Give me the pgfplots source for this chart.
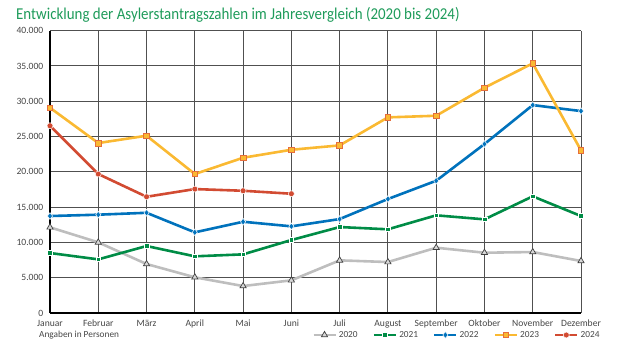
\documentclass[border=0pt]{standalone}
\usepackage{pgfplots}
\pgfplotsset{compat=1.18}
\usepackage{fontspec}
\setmainfont{Carlito}
\newfontfamily\titlefont[FakeStretch=0.9]{Carlito}
\definecolor{c20}{RGB}{190,190,190}
\definecolor{c21}{RGB}{0,140,70}
\definecolor{c22}{RGB}{0,114,188}
\definecolor{c23}{RGB}{250,185,50}
\definecolor{c23e}{RGB}{230,110,60}
\definecolor{c24}{RGB}{210,75,50}
\definecolor{ctitle}{RGB}{30,155,90}
\definecolor{ctext}{RGB}{70,70,70}
\definecolor{cgrid}{RGB}{80,80,80}
\begin{document}
\begin{tikzpicture}
\path[use as bounding box] (-50pt,-44pt) rectangle (570pt,313pt);
\node[anchor=west,text=ctitle,font=\titlefont\fontsize{16.6}{19}\selectfont,inner sep=0pt] at (-34pt,298pt) {Entwicklung der Asylerstantragszahlen im Jahresvergleich (2020 bis 2024)};
\node[anchor=west,text=ctext,font=\fontsize{9.3}{11}\selectfont,inner sep=0pt] at (-11pt,-21.7pt) {Angaben in Personen};
\begin{axis}[
  scale only axis, width=531pt, height=282.3pt,
  at={(0,0)}, anchor=south west,
  xmin=0, xmax=11, ymin=0, ymax=40000,
  xtick={0,...,11},
  xticklabels={Januar,Februar,März,April,Mai,Juni,Juli,August,September,Oktober,November,Dezember},
  ytick={0,5000,...,40000},
  scaled y ticks=false,
  /pgf/number format/.cd, 1000 sep={.}, assume math mode=true, fixed,
  /pgfplots/.cd,
  grid=major,
  grid style={cgrid, line width=1pt},
  axis lines=left,
  axis line style={-, black, line width=1.8pt},
  tick style={draw=none},
  ticklabel style={text=ctext, font=\fontsize{9.6}{11}\selectfont},
  xticklabel style={yshift=-1.5pt},
  yticklabel style={xshift=-1pt},
  clip=false,
  legend columns=5,
  legend style={draw=none, fill=none, at={(259pt,-22pt)}, anchor=west,
    font=\fontsize{9.3}{11}\selectfont, text=ctext,
    /tikz/every even column/.append style={column sep=13pt}},
  legend image code/.code={\draw[mark repeat=2,mark phase=2,#1] plot coordinates {(0pt,0pt) (11pt,0pt) (22pt,0pt)};},
]
\addplot[c20, line width=2.6pt, mark=triangle*, mark size=3.6pt, mark options={fill=c20!60, draw=black!75, line width=0.7pt}]
 coordinates {(0,12140)(1,10010)(2,6940)(3,5060)(4,3820)(5,4630)(6,7460)(7,7220)(8,9250)(9,8540)(10,8640)(11,7370)};
\addlegendentry{2020}
\addplot[c21, line width=2.6pt, mark=square*, mark size=2.3pt, mark options={fill=c21, draw=white, line width=0.5pt}]
 coordinates {(0,8500)(1,7600)(2,9490)(3,8030)(4,8310)(5,10340)(6,12180)(7,11860)(8,13840)(9,13270)(10,16530)(11,13740)};
\addlegendentry{2021}
\addplot[c22, line width=2.6pt, mark=diamond*, mark size=3.4pt, mark options={fill=c22, draw=white, line width=0.5pt}]
 coordinates {(0,13740)(1,13930)(2,14200)(3,11430)(4,12930)(5,12280)(6,13310)(7,16150)(8,18740)(9,23940)(10,29460)(11,28610)};
\addlegendentry{2022}
\addplot[c23, line width=2.6pt, mark=square*, mark size=2.8pt, mark options={fill=c23, draw=c23e, line width=0.7pt}]
 coordinates {(0,29080)(1,24080)(2,25120)(3,19690)(4,22000)(5,23130)(6,23750)(7,27720)(8,27950)(9,31920)(10,35370)(11,23040)};
\addlegendentry{2023}
\addplot[c24, line width=2.6pt, mark=*, mark size=3pt, mark options={fill=c24, draw=white, line width=0.5pt}]
 coordinates {(0,26530)(1,19690)(2,16470)(3,17560)(4,17320)(5,16900)};
\addlegendentry{2024}
\end{axis}
\end{tikzpicture}
\end{document}
